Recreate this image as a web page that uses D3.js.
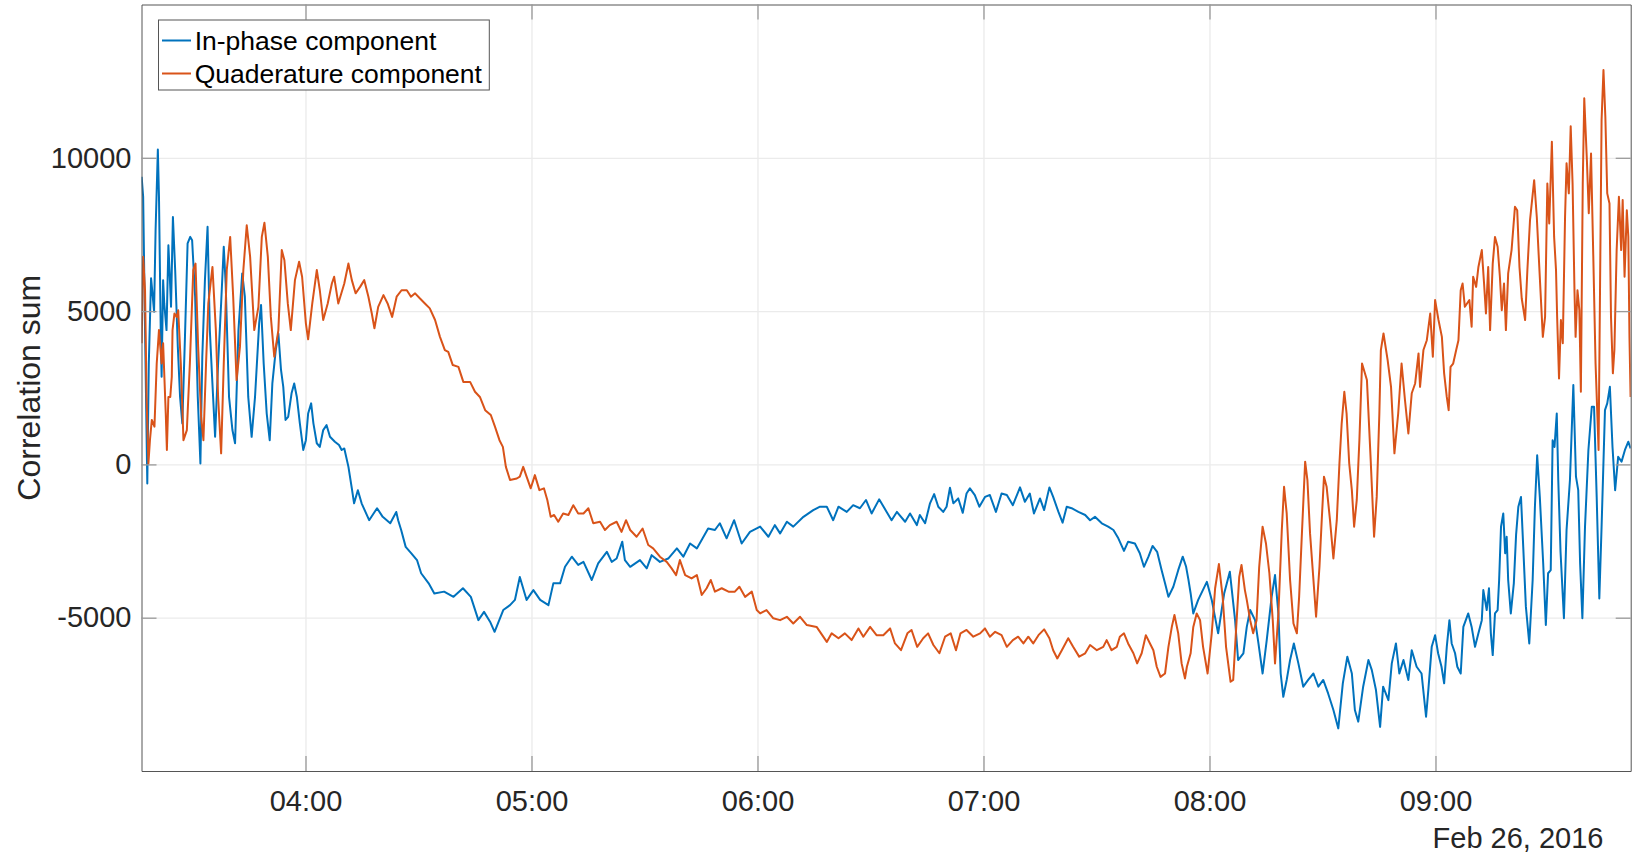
<!DOCTYPE html>
<html>
<head>
<meta charset="utf-8">
<script src="https://cdn.jsdelivr.net/npm/d3@7"></script>
<style>
  body { margin: 0; background: #fff; }
  svg { display: block; font-family: "Liberation Sans", Arial, Helvetica, sans-serif; }
</style>
</head>
<body>
<script>
var width = 1637,
  height = 854,
  plot = { left: 141.5, right: 1630.7, top: 4.5, bottom: 771 };

// [minutes after midnight on Feb 26 2016, correlation sum]
var inPhase = [
  [196.5,9380],[196.9,8730],[197.4,4380],[198.0,-620],[198.4,3300],[199.0,6070],[199.3,5680],[199.8,4980],[200.2,7640],[200.8,10270],
  [201.1,8730],[201.6,4050],[201.8,2860],[202.2,6010],[202.5,5250],[203.1,4380],[203.6,7150],[203.9,6340],[204.3,5140],[204.8,8070],
  [205.4,6340],[206.1,3840],[206.7,2200],[207.3,1340],[208.0,4160],[208.7,7210],[209.4,7420],[209.9,7310],[210.7,5470],[211.4,2200],
  [212.1,30],[212.6,3510],[213.3,6010],[214.0,7750],[214.6,4380],[215.2,2860],[216.0,900],[216.8,3290],[217.6,5250],[218.3,7100],
  [218.8,5900],[219.7,2200],[220.6,1120],[221.3,690],[222.2,4380],[223.2,6230],[223.9,5470],[224.8,2200],[225.7,900],[226.6,2200],
  [227.7,4600],[228.2,5200],[228.9,3290],[229.7,1660],[230.5,790],[231.2,2640],[232.1,3730],[232.8,4270],[233.5,3080],[234.1,2530],
  [234.7,1450],[235.4,1550],[236.3,2320],[237.0,2640],[237.7,2200],[238.5,1340],[239.4,470],[240.1,790],[240.7,1660],[241.5,1990],
  [242.1,1340],[243.0,690],[243.8,570],[244.7,1120],[245.6,1280],[246.5,900],[247.8,740],[248.9,630],[249.6,470],[250.3,520],
  [251.4,-80],[252.3,-780],[252.9,-1270],[253.9,-840],[254.9,-1270],[256.9,-1820],[259.0,-1430],[260.5,-1710],[262.5,-1920],[264.1,-1550],
  [264.6,-1820],[265.4,-2140],[266.6,-2690],[268.1,-2900],[269.6,-3120],[270.7,-3550],[272.7,-3880],[274.2,-4210],[276.8,-4150],[279.3,-4320],
  [281.8,-4040],[283.9,-4320],[285.9,-5080],[287.4,-4810],[289.0,-5130],[290.2,-5460],[292.5,-4750],[294.3,-4590],[295.6,-4420],[296.9,-3670],
  [298.7,-4420],[300.5,-4100],[302.3,-4420],[304.5,-4590],[305.8,-3880],[307.6,-3880],[308.9,-3340],[310.7,-3010],[312.4,-3280],[313.8,-3180],
  [316.0,-3770],[317.7,-3230],[320.0,-2850],[321.3,-3180],[322.6,-3070],[324.1,-2520],[324.8,-3120],[326.2,-3340],[328.8,-3120],[330.6,-3390],
  [331.9,-2960],[334.1,-3180],[336.3,-3070],[338.6,-2740],[340.3,-3010],[342.1,-2580],[343.9,-2740],[346.9,-2090],[348.7,-2140],[350.0,-1920],
  [351.8,-2410],[353.8,-1820],[355.8,-2580],[358.0,-2200],[360.7,-2030],[362.9,-2360],[364.6,-1980],[366.0,-2250],[367.8,-1870],[369.5,-2030],
  [372.2,-1710],[374.8,-1490],[376.6,-1380],[378.4,-1380],[380.1,-1820],[381.5,-1380],[383.7,-1550],[385.4,-1330],[387.2,-1430],[388.8,-1160],
  [390.3,-1600],[392.3,-1140],[394.3,-1550],[395.6,-1820],[397.0,-1550],[399.2,-1870],[400.5,-1600],[402.3,-1980],[403.1,-1650],[404.5,-1920],
  [405.8,-1270],[406.9,-970],[408.0,-1380],[409.3,-1550],[410.2,-1380],[411.1,-760],[412.0,-1270],[413.3,-1110],[414.5,-1580],[415.5,-950],
  [416.4,-780],[417.7,-1000],[418.9,-1380],[420.4,-1060],[421.7,-1000],[423.3,-1550],[424.8,-950],[426.2,-1000],[427.8,-1330],[429.7,-750],
  [431.0,-1220],[432.3,-950],[433.4,-1600],[435.0,-1110],[436.1,-1490],[437.5,-750],[438.5,-1060],[439.9,-1550],[441.0,-1900],[442.1,-1380],
  [443.4,-1430],[445.2,-1550],[447.0,-1650],[448.3,-1820],[449.6,-1710],[451.4,-1920],[453.1,-2030],[454.5,-2140],[455.8,-2410],[457.3,-2820],
  [458.4,-2520],[460.2,-2580],[461.5,-2900],[462.6,-3340],[463.8,-3010],[464.9,-2660],[466.1,-2850],[467.3,-3450],[468.2,-3880],[469.1,-4320],
  [470.4,-3990],[471.7,-3450],[472.9,-3010],[473.8,-3340],[474.4,-3750],[475.0,-4210],[475.7,-4860],[477.0,-4420],[479.3,-3830],[480.6,-4420],
  [482.3,-5510],[483.9,-4210],[485.4,-3500],[486.8,-5080],[487.6,-6380],[489.0,-6160],[489.9,-5300],[490.8,-4750],[492.1,-5080],[493.0,-5840],
  [494.1,-6820],[495.2,-5730],[496.5,-4320],[497.4,-3610],[498.3,-4860],[498.9,-6820],[499.6,-7580],[500.5,-7030],[501.4,-6380],[502.4,-5840],
  [503.6,-6490],[504.9,-7250],[506.2,-7030],[507.6,-6820],[508.9,-7250],[510.2,-7030],[511.5,-7470],[512.9,-8010],[514.2,-8610],[515.4,-7140],
  [516.6,-6270],[517.8,-6820],[518.6,-8010],[519.5,-8390],[520.8,-7250],[522.2,-6380],[523.1,-6710],[524.2,-7360],[525.3,-8560],[526.1,-7250],
  [527.5,-7690],[528.4,-6490],[529.5,-5840],[530.4,-6820],[531.5,-6380],[532.8,-7030],[533.7,-6060],[535.0,-6600],[536.3,-6820],[537.5,-8230],
  [538.1,-7360],[539.0,-5950],[539.9,-5570],[540.7,-6160],[541.6,-6600],[542.3,-7140],[543.0,-5950],[543.7,-5080],[544.3,-5840],[545.2,-6160],
  [545.8,-6600],[546.7,-6820],[547.4,-5300],[548.7,-4860],[549.6,-5300],[550.5,-5950],[551.4,-5510],[552.3,-5080],[552.7,-4100],[553.6,-4750],
  [554.2,-4040],[554.7,-5510],[555.2,-6220],[555.8,-4860],[556.5,-4750],[556.9,-3770],[557.4,-2030],[558.0,-1600],[558.5,-2900],[558.9,-2360],
  [559.3,-3770],[560.0,-4860],[560.8,-3880],[561.4,-2300],[562.0,-1380],[562.7,-1060],[563.3,-2690],[564.0,-4640],[564.9,-5840],[565.8,-3770],
  [566.4,-1380],[567.0,300],[567.7,-1060],[568.6,-3230],[569.3,-5240],[569.9,-3550],[570.6,-3450],[571.1,790],[571.6,570],[572.2,1660],
  [572.6,-510],[573.2,-2850],[574.1,-5020],[574.8,-2140],[575.7,-510],[576.6,2590],[577.3,-400],[577.9,-840],[578.4,-3230],[579.0,-5020],
  [579.7,-2030],[580.6,470],[581.5,1880],[582.1,1880],[582.8,-1060],[583.5,-4370],[584.1,-2030],[585.0,1770],[585.6,1990],[586.3,2530],
  [587.0,570],[587.7,-840],[588.5,250],[589.4,90],[590.3,470],[591.2,740],[591.8,520]
];

var quadrature = [
  [196.5,3950],[196.9,6770],[197.4,5680],[197.8,2200],[198.3,30],[198.7,790],[199.2,1450],[199.9,1230],[200.5,3290],[201.1,4380],
  [201.8,3290],[202.2,3950],[202.9,1660],[203.2,470],[203.6,2200],[204.1,2200],[204.5,2860],[204.7,4380],[205.2,4920],[205.8,4810],
  [206.2,5030],[206.9,3290],[207.6,790],[208.5,1120],[209.3,3290],[210.2,6340],[210.8,6550],[211.5,3840],[212.3,1550],[212.9,790],
  [213.6,3290],[214.2,5250],[215.3,6440],[216.2,4380],[216.8,2200],[217.6,360],[218.3,3290],[219.1,6340],[220.0,7420],[220.8,5470],
  [221.7,2750],[222.6,3840],[223.5,6340],[224.4,7800],[225.3,6770],[226.4,4380],[227.5,5140],[228.4,7420],[229.1,7880],[230.0,6770],
  [230.8,4810],[231.7,3510],[232.8,4380],[233.7,6990],[234.4,6660],[235.3,5250],[236.1,4380],[237.2,6010],[238.3,6610],[239.1,6120],
  [240.1,4600],[240.7,4080],[241.8,5250],[243.0,6340],[243.8,5680],[244.7,4710],[245.9,5250],[247.0,5900],[247.6,6120],[248.7,5250],
  [250.3,5900],[251.4,6550],[252.3,6010],[253.3,5580],[254.5,5790],[255.6,6010],[256.7,5470],[257.6,4920],[258.3,4440],[259.3,5140],
  [260.7,5520],[261.8,5250],[263.0,4810],[264.2,5470],[265.5,5680],[266.9,5680],[268.0,5470],[269.1,5580],[270.4,5410],[271.7,5250],
  [273.0,5090],[274.4,4710],[275.7,4160],[277.0,3730],[277.9,3670],[279.1,3240],[280.6,3180],[281.9,2690],[283.7,2690],[285.0,2370],
  [286.3,2200],[287.7,1770],[289.2,1610],[290.3,1230],[291.5,790],[292.4,570],[293.2,-80],[294.3,-510],[296.1,-460],[296.9,-400],
  [297.8,-80],[298.7,-400],[299.8,-780],[300.9,-350],[302.1,-840],[303.3,-780],[304.2,-1160],[305.1,-1710],[306.0,-1650],[307.1,-1870],
  [308.4,-1600],[309.8,-1650],[311.1,-1330],[312.4,-1600],[313.8,-1600],[315.1,-1430],[316.4,-1920],[318.2,-1870],[319.5,-2140],[320.8,-1980],
  [322.6,-1870],[323.9,-2200],[325.1,-1820],[326.2,-2140],[327.9,-2360],[329.5,-2090],[331.0,-2630],[332.3,-2740],[334.1,-3010],[335.9,-3180],
  [337.2,-3390],[338.4,-3610],[339.4,-3120],[340.8,-3610],[342.5,-3720],[343.9,-3610],[345.2,-4260],[346.5,-4040],[347.6,-3770],[348.7,-4150],
  [350.5,-4040],[352.3,-4150],[354.0,-4150],[355.2,-3990],[356.7,-4320],[358.5,-4150],[359.8,-4750],[360.7,-4860],[362.4,-4750],[364.2,-5020],
  [366.0,-5080],[367.8,-4970],[369.5,-5190],[371.3,-4970],[373.1,-5240],[375.7,-5300],[378.4,-5790],[379.7,-5510],[381.5,-5670],[383.2,-5510],
  [385.0,-5730],[386.8,-5350],[388.1,-5620],[389.9,-5300],[391.6,-5570],[393.4,-5570],[395.2,-5350],[396.5,-5840],[398.1,-6060],[399.8,-5510],
  [400.9,-5400],[402.4,-5950],[404.0,-5670],[405.3,-5510],[406.7,-5890],[408.3,-6160],[409.8,-5620],[411.3,-5510],[412.7,-6060],[413.9,-5510],
  [415.5,-5400],[417.3,-5620],[419.1,-5510],[420.4,-5350],[421.7,-5620],[423.1,-5460],[424.8,-5570],[426.2,-5950],[427.8,-5730],[429.2,-5620],
  [430.6,-5840],[431.9,-5620],[433.2,-5840],[434.6,-5570],[436.1,-5380],[437.5,-5670],[438.5,-6060],[439.6,-6330],[440.8,-6060],[442.5,-5670],
  [443.8,-5950],[445.4,-6270],[447.0,-6160],[448.3,-5890],[450.1,-6060],[451.8,-5950],[452.7,-5730],[454.0,-6060],[455.4,-5950],[456.2,-5620],
  [457.3,-5510],[458.4,-5840],[459.8,-6160],[460.8,-6490],[462.0,-6160],[463.1,-5570],[464.2,-5840],[465.1,-6060],[466.0,-6600],[467.0,-6930],
  [468.2,-6820],[469.1,-5950],[470.0,-5300],[470.7,-4910],[471.7,-5510],[472.6,-6490],[473.5,-6980],[474.0,-6600],[475.0,-6160],[475.7,-5300],
  [476.6,-4860],[477.5,-5080],[478.3,-5950],[479.5,-6820],[480.6,-5510],[481.5,-4040],[482.5,-3250],[483.5,-4320],[484.4,-5950],[485.6,-7090],
  [486.3,-7030],[487.0,-5510],[487.9,-3670],[488.5,-3280],[489.4,-4100],[489.9,-4420],[490.8,-5080],[491.6,-5510],[492.5,-5080],[493.2,-3340],
  [494.1,-2030],[495.0,-2580],[495.9,-3550],[496.8,-5080],[497.4,-6490],[498.3,-4860],[499.2,-2140],[499.8,-730],[500.5,-1600],[501.4,-3770],
  [502.3,-5190],[503.2,-5510],[503.8,-4320],[504.5,-2360],[505.4,90],[506.0,-510],[506.7,-2250],[507.6,-3770],[508.3,-4970],[509.2,-3340],
  [509.8,-1820],[510.4,-400],[511.1,-730],[512.0,-1820],[512.9,-3070],[513.8,-1820],[514.5,30],[515.1,1340],[515.8,2370],[516.4,1660],
  [517.1,30],[517.8,-840],[518.4,-2030],[519.1,-1160],[519.8,790],[520.5,3290],[521.8,2750],[522.8,140],[523.7,-2360],[524.4,-1060],
  [525.1,1660],[525.5,3730],[526.2,4270],[527.3,3400],[528.2,2530],[529.1,360],[530.1,1660],[531.0,3290],[531.9,2100],[532.8,1010],
  [533.7,2320],[534.6,2640],[535.5,3620],[535.9,2530],[536.8,3730],[537.7,4050],[538.6,4920],[539.3,3510],[539.9,5360],[540.8,4710],
  [541.7,4160],[542.3,2970],[543.0,2200],[543.5,1770],[544.0,3180],[544.7,3290],[545.5,3730],[546.1,4050],[546.7,5680],[547.2,5900],
  [547.8,5140],[549.0,5360],[549.6,4490],[550.0,6120],[550.8,5790],[551.4,6440],[552.3,6990],[552.9,5900],[553.4,4920],[554.0,6440],
  [554.5,4380],[555.2,6550],[555.8,7420],[556.5,7100],[557.1,6120],[557.6,5030],[558.2,5900],[558.7,4380],[559.3,6230],[560.2,6990],
  [561.1,8400],[561.7,8290],[562.3,6440],[562.9,5410],[563.8,4710],[564.4,6340],[565.1,7970],[566.2,9270],[566.9,8070],[567.6,6340],
  [568.5,4160],[569.1,4810],[569.7,9160],[570.2,7860],[570.9,10520],[571.5,7420],[572.0,6340],[572.3,4810],[572.8,2800],[573.3,4710],
  [573.8,3950],[574.4,8070],[574.8,9820],[575.4,8840],[575.9,11030],[576.4,9160],[576.9,5680],[577.2,4160],[577.7,5680],[578.2,5030],
  [578.6,2370],[579.1,9160],[579.5,11940],[580.2,9920],[580.7,8190],[581.3,10140],[581.9,6770],[582.5,3290],[583.0,1550],[583.3,470],
  [583.7,5900],[584.1,11230],[584.6,12860],[585.1,11340],[585.6,8840],[586.2,8510],[586.6,4810],[587.1,2970],[587.5,3730],[588.1,6990],
  [588.7,8730],[589.3,6990],[589.7,8620],[590.2,6120],[590.8,8290],[591.2,7420],[591.5,4160],[591.8,2200]
];

var timeSpan = [196.46, 591.83];          // minutes after midnight
var hourTicks = [4, 5, 6, 7, 8, 9];
var sumSpan = [-10000, 15000];
var sumTicks = [-5000, 0, 5000, 10000];
var seriesNames = ["In-phase component", "Quaderature component"];
var seriesColors = ["#0072bd", "#d95319"];
var dateLabel = "Feb 26, 2016";
var yTitle = "Correlation sum";

function toDate(m) { return new Date(2016, 1, 26, 0, 0, 0, Math.round(m * 60000)); }

var x = d3.scaleTime()
  .domain(timeSpan.map(toDate))
  .range([plot.left, plot.right]);
var y = d3.scaleLinear()
  .domain(sumSpan)
  .range([plot.bottom, plot.top]);

var plotW = plot.right - plot.left,
  plotH = plot.bottom - plot.top,
  tickLen = 15,
  axisColor = "#555",
  tickColor = "#9a9a9a",
  textColor = "#262626";

var svg = d3.select("body").append("svg")
  .attr("width", width)
  .attr("height", height);

svg.append("rect").attr("width", width).attr("height", height).attr("fill", "#fff");

var hourDates = hourTicks.map(function (h) { return toDate(h * 60); });

// grid
svg.append("g")
  .attr("transform", "translate(0," + plot.bottom + ")")
  .call(d3.axisBottom(x).tickValues(hourDates).tickSize(-plotH).tickFormat(""))
  .call(function (g) { g.select(".domain").remove(); })
  .selectAll("line").attr("stroke", "#e4e4e4").attr("stroke-width", 1);
svg.append("g")
  .attr("transform", "translate(" + plot.left + ",0)")
  .call(d3.axisLeft(y).tickValues(sumTicks).tickSize(-plotW).tickFormat(""))
  .call(function (g) { g.select(".domain").remove(); })
  .selectAll("line").attr("stroke", "#ebebeb").attr("stroke-width", 1.3);

svg.append("clipPath").attr("id", "clip")
  .append("rect")
  .attr("x", plot.left).attr("y", plot.top)
  .attr("width", plotW).attr("height", plotH);

var line = d3.line()
  .x(function (d) { return x(toDate(d[0])); })
  .y(function (d) { return y(d[1]); });

svg.append("g").attr("clip-path", "url(#clip)")
  .selectAll("path")
  .data([inPhase, quadrature])
  .enter().append("path")
  .attr("d", line)
  .attr("fill", "none")
  .attr("stroke", function (d, i) { return seriesColors[i]; })
  .attr("stroke-width", 2)
  .attr("stroke-linejoin", "round");

// axes (box with inward ticks on all sides)
function styleAxis(g) {
  g.attr("font-family", null);
  g.select(".domain").attr("stroke", axisColor).attr("stroke-width", 1);
  g.selectAll(".tick line").attr("stroke", tickColor).attr("stroke-width", 1.3);
  g.selectAll("text").attr("fill", textColor).attr("font-size", 29);
}

svg.append("g")
  .attr("transform", "translate(0," + plot.bottom + ")")
  .call(d3.axisBottom(x).tickValues(hourDates).tickSizeInner(-tickLen).tickSizeOuter(0)
    .tickPadding(19).tickFormat(d3.timeFormat("%H:%M")))
  .call(styleAxis);
svg.append("g")
  .attr("transform", "translate(0," + plot.top + ")")
  .call(d3.axisTop(x).tickValues(hourDates).tickSizeInner(-tickLen).tickSizeOuter(0).tickFormat(""))
  .call(styleAxis);
svg.append("g")
  .attr("transform", "translate(" + plot.left + ",0)")
  .call(d3.axisLeft(y).tickValues(sumTicks).tickSizeInner(-tickLen).tickSizeOuter(0)
    .tickPadding(10).tickFormat(function (d) { return String(d); }))
  .call(styleAxis);
svg.append("g")
  .attr("transform", "translate(" + plot.right + ",0)")
  .call(d3.axisRight(y).tickValues(sumTicks).tickSizeInner(-tickLen).tickSizeOuter(0).tickFormat(""))
  .call(styleAxis);

svg.append("text")
  .attr("x", 1603.5).attr("y", 847.5)
  .attr("text-anchor", "end")
  .attr("font-size", 29)
  .attr("fill", textColor)
  .text(dateLabel);

svg.append("text")
  .attr("transform", "translate(40," + (plot.top + plot.bottom) / 2 + ")rotate(-90)")
  .attr("text-anchor", "middle")
  .attr("font-size", 32)
  .attr("fill", textColor)
  .text(yTitle);

// legend
var legend = svg.append("g").attr("transform", "translate(158.5,20)");
legend.append("rect")
  .attr("width", 330.8).attr("height", 70)
  .attr("fill", "#fff")
  .attr("stroke", axisColor)
  .attr("stroke-width", 1);
var item = legend.selectAll(".item")
  .data(seriesNames)
  .enter().append("g")
  .attr("class", "item")
  .attr("transform", function (d, i) { return "translate(0," + (20.5 + i * 33) + ")"; });
item.append("line")
  .attr("x1", 3.5).attr("x2", 32.5)
  .attr("stroke", function (d, i) { return seriesColors[i]; })
  .attr("stroke-width", 2);
item.append("text")
  .attr("x", 36.2).attr("y", 9.6)
  .attr("font-size", 26.5)
  .attr("fill", "#000")
  .text(function (d) { return d; });
</script>
</body>
</html>
